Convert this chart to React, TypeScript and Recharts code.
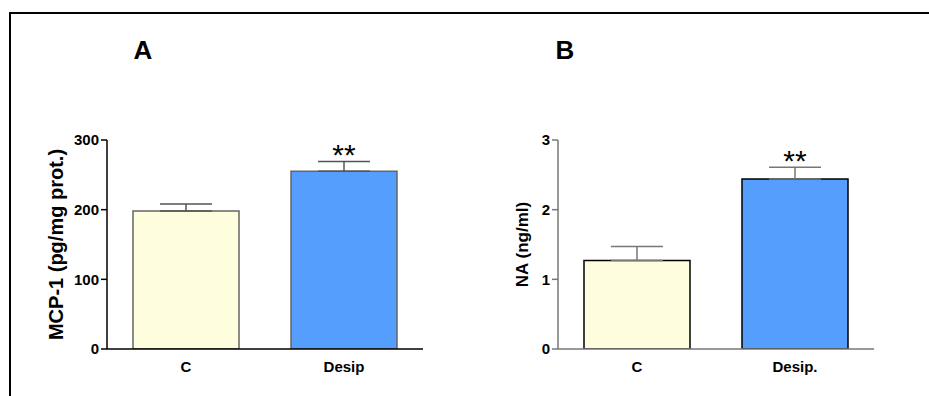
import React from 'react';
import { BarChart, Bar, XAxis, YAxis, ErrorBar, Cell, LabelList } from 'recharts';

// Panel A: MCP-1
const categoriesA = ['C', 'Desip'];
const valuesA = [198, 255];
const errorsA = [10, 14];
const sigA = ['', '**'];
const ticksA = [0, 100, 200, 300];

// Panel B: NA
const categoriesB = ['C', 'Desip.'];
const valuesB = [1.27, 2.44];
const errorsB = [0.2, 0.17];
const sigB = ['', '**'];
const ticksB = [0, 1, 2, 3];

const barColors = ['#FEFEDF', '#559EFD'];

const FONT = "Arial, 'Liberation Sans', Helvetica, sans-serif";

const buildData = (cats: string[], vals: number[], errs: number[], sig: string[]) =>
  cats.map((c, i) => ({ name: c, value: vals[i], err: [0, errs[i]], sig: sig[i] }));

const dataA = buildData(categoriesA, valuesA, errorsA, sigA);
const dataB = buildData(categoriesB, valuesB, errorsB, sigB);

const makeYLabel = (text: string, dx: number, size: number) => (props: any) => {
  const vb = props.viewBox || {};
  const cx = (vb.x || 0) + dx;
  const cy = (vb.y || 0) + (vb.height || 0) / 2;
  return (
    <text
      x={cx}
      y={cy}
      transform={`rotate(-90, ${cx}, ${cy})`}
      textAnchor="middle"
      dominantBaseline="central"
      fontFamily={FONT}
      fontWeight="bold"
      fontSize={size}
      fill="#000"
    >
      {text}
    </text>
  );
};

const makeStars = (lift: number) => (props: any) => {
  const { x, y, width, value } = props;
  if (!value) return null;
  return (
    <text
      x={Number(x) + Number(width) / 2}
      y={Number(y) - lift}
      textAnchor="middle"
      dominantBaseline="central"
      fontFamily={FONT}
      fontSize={30}
      fill="#000"
    >
      {value}
    </text>
  );
};

interface PanelProps {
  data: any[];
  ticks: number[];
  domainMax: number;
  width: number;
  yAxisWidth: number;
  marginRight: number;
  label: string;
  labelDx: number;
  labelSize: number;
  axisColor: string;
  barStroke: string;
  errColor: string;
  starLift: number;
}

const Panel = (p: PanelProps) => (
  <BarChart
    width={p.width}
    height={396}
    data={p.data}
    margin={{ top: 140, right: p.marginRight, bottom: 0, left: 0 }}
    barCategoryGap={26}
  >
    <XAxis
      dataKey="name"
      height={47}
      tickLine={false}
      axisLine={{ stroke: p.axisColor, strokeWidth: 1.5 }}
      tickMargin={6}
      tick={{ fill: '#000', fontSize: 15, fontWeight: 'bold', fontFamily: FONT }}
      interval={0}
    />
    <YAxis
      width={p.yAxisWidth}
      domain={[0, p.domainMax]}
      ticks={p.ticks}
      interval={0}
      allowDataOverflow
      tickSize={6}
      tickMargin={2}
      axisLine={{ stroke: p.axisColor, strokeWidth: 1.5 }}
      tickLine={{ stroke: p.axisColor, strokeWidth: 1.5 }}
      tick={{ fill: '#000', fontSize: 15, fontWeight: 'bold', fontFamily: FONT }}
      label={{ content: makeYLabel(p.label, p.labelDx, p.labelSize) }}
    />
    <Bar dataKey="value" isAnimationActive={false} stroke={p.barStroke} strokeWidth={1.5}>
      {p.data.map((_, i) => (
        <Cell key={i} fill={barColors[i]} />
      ))}
      <ErrorBar
        dataKey="err"
        direction="y"
        width={26}
        stroke={p.errColor}
        strokeWidth={1.5}
        isAnimationActive={false}
      />
      <LabelList dataKey="sig" content={makeStars(p.starLift)} />
    </Bar>
  </BarChart>
);

const titleStyle = (left: number): React.CSSProperties => ({
  position: 'absolute',
  left,
  top: 37,
  width: 30,
  textAlign: 'center',
  fontFamily: FONT,
  fontWeight: 'bold',
  fontSize: 26,
  lineHeight: '26px',
  color: '#000',
});

export default function App() {
  return (
    <div
      style={{
        position: 'absolute',
        left: 0,
        top: 0,
        width: 929,
        height: 396,
        background: '#fff',
        overflow: 'hidden',
      }}
    >
      <div
        style={{
          position: 'absolute',
          left: 9,
          top: 12,
          width: 930,
          height: 400,
          borderTop: '2px solid #000',
          borderLeft: '2px solid #000',
          boxSizing: 'border-box',
        }}
      />
      <div style={titleStyle(128)}>A</div>
      <div style={titleStyle(550)}>B</div>
      <div style={{ position: 'absolute', left: 0, top: 0 }}>
        <Panel
          data={dataA}
          ticks={ticksA}
          domainMax={300}
          width={440}
          yAxisWidth={107}
          marginRight={17}
          label="MCP-1 (pg/mg prot.)"
          labelDx={56}
          labelSize={20}
          axisColor="#000"
          barStroke="#666"
          errColor="#555"
          starLift={17}
        />
      </div>
      <div style={{ position: 'absolute', left: 450, top: 0 }}>
        <Panel
          data={dataB}
          ticks={ticksB}
          domainMax={3}
          width={479}
          yAxisWidth={108}
          marginRight={55}
          label="NA (ng/ml)"
          labelDx={72}
          labelSize={17}
          axisColor="#777"
          barStroke="#000"
          errColor="#777"
          starLift={19}
        />
      </div>
    </div>
  );
}
